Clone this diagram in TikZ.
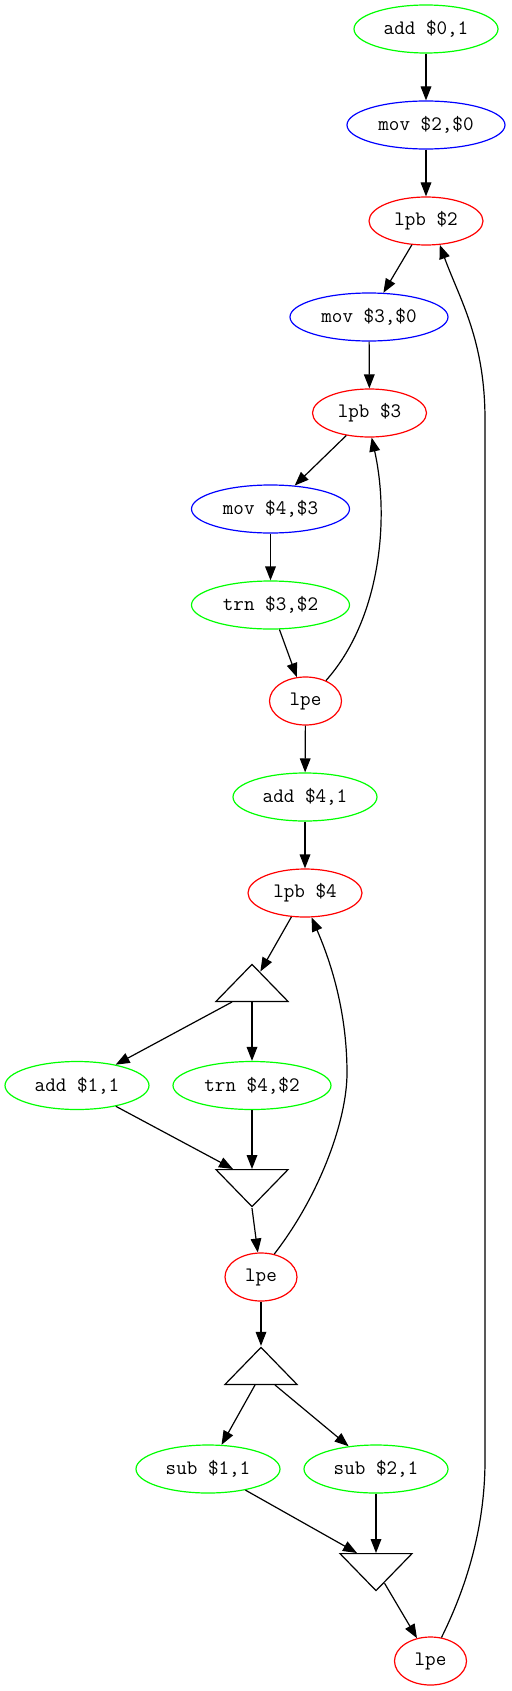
\documentclass[tikz,border=0pt]{standalone}
\usepackage{fontspec}
\usetikzlibrary{shapes.geometric,arrows.meta,calc}

\begin{document}
\begin{tikzpicture}[x=0.75pt,y=-0.75pt,
    every node/.style={font=\ttfamily\fontsize{15.4pt}{17pt}\selectfont, inner sep=0pt, line width=0.9pt},
    op/.style={ellipse, minimum height=36pt},
    lpb/.style={op, draw=red, minimum width=85.5pt},
    lpe/.style={op, draw=red, minimum width=54pt},
    arith/.style={op, draw=green, minimum width=108pt},
    arithw/.style={op, draw=green, minimum width=118.5pt},
    mov/.style={op, draw=blue, minimum width=118.5pt},
    fork/.style={isosceles triangle, isosceles triangle stretches, shape border rotate=90, draw,
        minimum width=54pt, minimum height=27.75pt, anchor=lower side},
    merge/.style={fork, shape border rotate=270},
    flow/.style={-{Triangle[length=10.5pt,width=8pt]}, line width=0.9pt}]
    \useasboundingbox (0,0) rectangle (511,1691);

    \node[arith] (addzero) at (426,29) {add \$0,1};
    \node[mov] (movtwo) at (426,125) {mov \$2,\$0};
    \node[lpb] (lpbtwo) at (426,221) {lpb \$2};
    \node[mov] (movthree) at (369,317) {mov \$3,\$0};
    \node[lpb] (lpbthree) at (369.5,413) {lpb \$3};
    \node[mov] (movfour) at (270.5,509) {mov \$4,\$3};
    \node[arithw] (trnthree) at (270.5,605) {trn \$3,\$2};
    \node[lpe] (lpeone) at (305.5,701) {lpe};
    \node[arith] (addfour) at (305,797) {add \$4,1};
    \node[lpb] (lpbfour) at (305,893) {lpb \$4};
    \node[fork] (splitone) at (252,1002) {};
    \node[arith] (addone) at (77,1085.5) {add \$1,1};
    \node[arithw] (trnfour) at (252,1085.5) {trn \$4,\$2};
    \node[merge] (joinone) at (252,1169) {};
    \node[lpe] (lpetwo) at (261,1277) {lpe};
    \node[fork] (splittwo) at (261,1385) {};
    \node[arith] (subone) at (208,1469) {sub \$1,1};
    \node[arith] (subtwo) at (376,1469) {sub \$2,1};
    \node[merge] (jointwo) at (376,1553) {};
    \node[lpe] (lpethree) at (430.5,1661) {lpe};

    \draw[flow] (addzero) -- (movtwo);
    \draw[flow] (movtwo) -- (lpbtwo);
    \draw[flow] (lpbtwo) -- (movthree);
    \draw[flow] (movthree) -- (lpbthree);
    \draw[flow] (lpbthree) -- (movfour);
    \draw[flow] (movfour) -- (trnthree);
    \draw[flow] (trnthree) -- (lpeone);
    \draw[flow] (lpeone.45) .. controls (380,620) and (390,520) .. (lpbthree.-85);
    \draw[flow] (lpeone) -- (addfour);
    \draw[flow] (addfour) -- (lpbfour);
    \draw[flow] (lpbfour) -- (splitone);
    \draw[flow] ($(splitone.lower side)+(-20,0)$) -- (addone);
    \draw[flow] (splitone.lower side) -- (trnfour);
    \draw[flow] (addone) -- ($(joinone.lower side)+(-19,0)$);
    \draw[flow] (trnfour) -- (joinone.lower side);
    \draw[flow] (joinone.apex) -- (lpetwo);
    \draw[flow] (lpetwo.60) .. controls (320,1195) and (347,1120) .. (347,1073)
        .. controls (347,1010) and (330,960) .. (lpbfour.-75);
    \draw[flow] (lpetwo) -- (splittwo.apex);
    \draw[flow] ($(splittwo.lower side)+(-6,0)$) -- (subone);
    \draw[flow] ($(splittwo.lower side)+(14,0)$) -- (subtwo);
    \draw[flow] (subone) -- ($(jointwo.lower side)+(-19,0)$);
    \draw[flow] (subtwo) -- (jointwo.lower side);
    \draw[flow] (jointwo) -- (lpethree);
    \draw[flow] (lpethree.65) .. controls (465,1590) and (485,1530) .. (485,1460) -- (485,420)
        .. controls (485,340) and (460,300) .. (lpbtwo.-60);
\end{tikzpicture}
\end{document}
